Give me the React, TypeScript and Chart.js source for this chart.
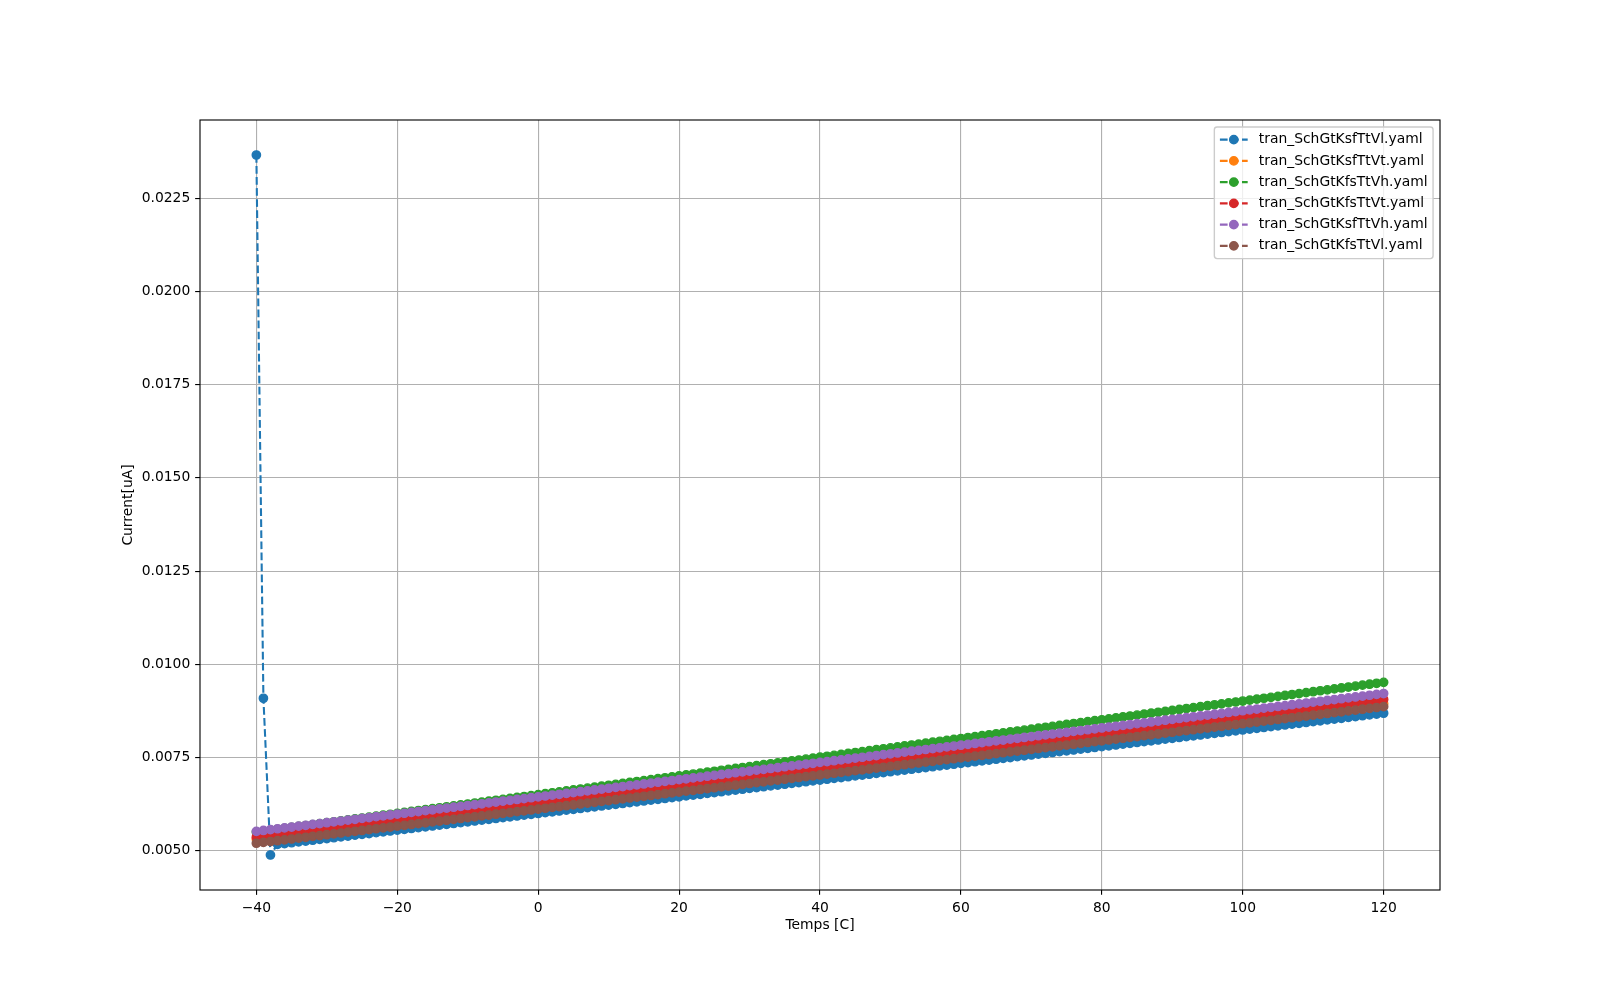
import React, { useEffect, useRef } from "react";
import { Chart, registerables } from "chart.js";

Chart.register(...registerables);

// ---- data ----
const TEMPS = [
  -40, -39, -38, -37, -36, -35, -34, -33, -32, -31,
  -30, -29, -28, -27, -26, -25, -24, -23, -22, -21,
  -20, -19, -18, -17, -16, -15, -14, -13, -12, -11,
  -10, -9, -8, -7, -6, -5, -4, -3, -2, -1,
  0, 1, 2, 3, 4, 5, 6, 7, 8, 9,
  10, 11, 12, 13, 14, 15, 16, 17, 18, 19,
  20, 21, 22, 23, 24, 25, 26, 27, 28, 29,
  30, 31, 32, 33, 34, 35, 36, 37, 38, 39,
  40, 41, 42, 43, 44, 45, 46, 47, 48, 49,
  50, 51, 52, 53, 54, 55, 56, 57, 58, 59,
  60, 61, 62, 63, 64, 65, 66, 67, 68, 69,
  70, 71, 72, 73, 74, 75, 76, 77, 78, 79,
  80, 81, 82, 83, 84, 85, 86, 87, 88, 89,
  90, 91, 92, 93, 94, 95, 96, 97, 98, 99,
  100, 101, 102, 103, 104, 105, 106, 107, 108, 109,
  110, 111, 112, 113, 114, 115, 116, 117, 118, 119,
  120,
];

const KSF_TT_VL = [
  0.02366, 0.009088, 0.004885, 0.00517, 0.0051924, 0.0052148, 0.0052372, 0.0052596, 0.005282, 0.0053044,
  0.0053268, 0.0053492, 0.0053716, 0.005394, 0.0054164, 0.0054388, 0.0054612, 0.0054836, 0.005506, 0.0055284,
  0.0055508, 0.0055732, 0.0055956, 0.005618, 0.0056404, 0.0056628, 0.0056852, 0.0057076, 0.00573, 0.0057524,
  0.0057748, 0.0057972, 0.0058196, 0.005842, 0.0058644, 0.0058868, 0.0059092, 0.0059316, 0.005954, 0.0059764,
  0.0059988, 0.0060212, 0.0060436, 0.006066, 0.0060884, 0.0061108, 0.0061332, 0.0061556, 0.006178, 0.0062004,
  0.0062228, 0.0062452, 0.0062676, 0.00629, 0.0063124, 0.0063348, 0.0063572, 0.0063796, 0.006402, 0.0064244,
  0.0064468, 0.0064692, 0.0064916, 0.006514, 0.0065364, 0.0065588, 0.0065812, 0.0066036, 0.006626, 0.0066484,
  0.0066708, 0.0066932, 0.0067156, 0.006738, 0.0067604, 0.0067828, 0.0068052, 0.0068276, 0.00685, 0.0068724,
  0.0068948, 0.0069172, 0.0069396, 0.006962, 0.0069844, 0.0070068, 0.0070292, 0.0070516, 0.007074, 0.0070964,
  0.0071188, 0.0071412, 0.0071636, 0.007186, 0.0072084, 0.0072308, 0.0072532, 0.0072756, 0.007298, 0.0073204,
  0.0073428, 0.0073652, 0.0073876, 0.00741, 0.0074324, 0.0074548, 0.0074772, 0.0074996, 0.007522, 0.0075444,
  0.0075668, 0.0075892, 0.0076116, 0.007634, 0.0076564, 0.0076788, 0.0077012, 0.0077236, 0.007746, 0.0077684,
  0.0077908, 0.0078132, 0.0078356, 0.007858, 0.0078804, 0.0079028, 0.0079252, 0.0079476, 0.00797, 0.0079924,
  0.0080148, 0.0080372, 0.0080596, 0.008082, 0.0081044, 0.0081268, 0.0081492, 0.0081716, 0.008194, 0.0082164,
  0.0082388, 0.0082612, 0.0082836, 0.008306, 0.0083284, 0.0083508, 0.0083732, 0.0083956, 0.008418, 0.0084404,
  0.0084628, 0.0084852, 0.0085076, 0.00853, 0.0085524, 0.0085748, 0.0085972, 0.0086196, 0.008642, 0.0086644,
  0.0086868,
];

const KSF_TT_VT = [
  0.00531, 0.0053327, 0.0053554, 0.0053781, 0.0054008, 0.0054235, 0.0054462, 0.0054689, 0.0054916, 0.0055143,
  0.005537, 0.0055597, 0.0055824, 0.0056051, 0.0056278, 0.0056505, 0.0056732, 0.0056959, 0.0057186, 0.0057413,
  0.005764, 0.0057867, 0.0058094, 0.0058321, 0.0058548, 0.0058775, 0.0059002, 0.0059229, 0.0059456, 0.0059683,
  0.005991, 0.0060137, 0.0060364, 0.0060591, 0.0060818, 0.0061045, 0.0061272, 0.0061499, 0.0061726, 0.0061953,
  0.006218, 0.0062407, 0.0062634, 0.0062861, 0.0063088, 0.0063315, 0.0063542, 0.0063769, 0.0063996, 0.0064223,
  0.006445, 0.0064677, 0.0064904, 0.0065131, 0.0065358, 0.0065585, 0.0065812, 0.0066039, 0.0066266, 0.0066493,
  0.006672, 0.0066947, 0.0067174, 0.0067401, 0.0067628, 0.0067855, 0.0068082, 0.0068309, 0.0068536, 0.0068763,
  0.006899, 0.0069217, 0.0069444, 0.0069671, 0.0069898, 0.0070125, 0.0070352, 0.0070579, 0.0070806, 0.0071033,
  0.007126, 0.0071487, 0.0071714, 0.0071941, 0.0072168, 0.0072395, 0.0072622, 0.0072849, 0.0073076, 0.0073303,
  0.007353, 0.0073757, 0.0073984, 0.0074211, 0.0074438, 0.0074665, 0.0074892, 0.0075119, 0.0075346, 0.0075573,
  0.00758, 0.0076027, 0.0076254, 0.0076481, 0.0076708, 0.0076935, 0.0077162, 0.0077389, 0.0077616, 0.0077843,
  0.007807, 0.0078297, 0.0078524, 0.0078751, 0.0078978, 0.0079205, 0.0079432, 0.0079659, 0.0079886, 0.0080113,
  0.008034, 0.0080567, 0.0080794, 0.0081021, 0.0081248, 0.0081475, 0.0081702, 0.0081929, 0.0082156, 0.0082383,
  0.008261, 0.0082837, 0.0083064, 0.0083291, 0.0083518, 0.0083745, 0.0083972, 0.0084199, 0.0084426, 0.0084653,
  0.008488, 0.0085107, 0.0085334, 0.0085561, 0.0085788, 0.0086015, 0.0086242, 0.0086469, 0.0086696, 0.0086923,
  0.008715, 0.0087377, 0.0087604, 0.0087831, 0.0088058, 0.0088285, 0.0088512, 0.0088739, 0.0088966, 0.0089193,
  0.008942,
];

const KFS_TT_VH = [
  0.0055, 0.0055251, 0.0055502, 0.0055753, 0.0056004, 0.0056255, 0.0056506, 0.0056757, 0.0057008, 0.0057259,
  0.005751, 0.0057761, 0.0058012, 0.0058263, 0.0058514, 0.0058765, 0.0059016, 0.0059267, 0.0059518, 0.0059769,
  0.006002, 0.0060271, 0.0060522, 0.0060773, 0.0061024, 0.0061275, 0.0061526, 0.0061777, 0.0062028, 0.0062279,
  0.006253, 0.0062781, 0.0063032, 0.0063283, 0.0063534, 0.0063785, 0.0064036, 0.0064287, 0.0064538, 0.0064789,
  0.006504, 0.0065291, 0.0065542, 0.0065793, 0.0066044, 0.0066295, 0.0066546, 0.0066797, 0.0067048, 0.0067299,
  0.006755, 0.0067801, 0.0068052, 0.0068303, 0.0068554, 0.0068805, 0.0069056, 0.0069307, 0.0069558, 0.0069809,
  0.007006, 0.0070311, 0.0070562, 0.0070813, 0.0071064, 0.0071315, 0.0071566, 0.0071817, 0.0072068, 0.0072319,
  0.007257, 0.0072821, 0.0073072, 0.0073323, 0.0073574, 0.0073825, 0.0074076, 0.0074327, 0.0074578, 0.0074829,
  0.007508, 0.0075331, 0.0075582, 0.0075833, 0.0076084, 0.0076335, 0.0076586, 0.0076837, 0.0077088, 0.0077339,
  0.007759, 0.0077841, 0.0078092, 0.0078343, 0.0078594, 0.0078845, 0.0079096, 0.0079347, 0.0079598, 0.0079849,
  0.00801, 0.0080351, 0.0080602, 0.0080853, 0.0081104, 0.0081355, 0.0081606, 0.0081857, 0.0082108, 0.0082359,
  0.008261, 0.0082861, 0.0083112, 0.0083363, 0.0083614, 0.0083865, 0.0084116, 0.0084367, 0.0084618, 0.0084869,
  0.008512, 0.0085371, 0.0085622, 0.0085873, 0.0086124, 0.0086375, 0.0086626, 0.0086877, 0.0087128, 0.0087379,
  0.008763, 0.0087881, 0.0088132, 0.0088383, 0.0088634, 0.0088885, 0.0089136, 0.0089387, 0.0089638, 0.0089889,
  0.009014, 0.0090391, 0.0090642, 0.0090893, 0.0091144, 0.0091395, 0.0091646, 0.0091897, 0.0092148, 0.0092399,
  0.009265, 0.0092901, 0.0093152, 0.0093403, 0.0093654, 0.0093905, 0.0094156, 0.0094407, 0.0094658, 0.0094909,
  0.009516,
];

const KFS_TT_VT = [
  0.00536, 0.0053831, 0.0054062, 0.0054293, 0.0054524, 0.0054755, 0.0054986, 0.0055217, 0.0055448, 0.0055679,
  0.005591, 0.0056141, 0.0056372, 0.0056603, 0.0056834, 0.0057065, 0.0057296, 0.0057527, 0.0057758, 0.0057989,
  0.005822, 0.0058451, 0.0058682, 0.0058913, 0.0059144, 0.0059375, 0.0059606, 0.0059837, 0.0060068, 0.0060299,
  0.006053, 0.0060761, 0.0060992, 0.0061223, 0.0061454, 0.0061685, 0.0061916, 0.0062147, 0.0062378, 0.0062609,
  0.006284, 0.0063071, 0.0063302, 0.0063533, 0.0063764, 0.0063995, 0.0064226, 0.0064457, 0.0064688, 0.0064919,
  0.006515, 0.0065381, 0.0065612, 0.0065843, 0.0066074, 0.0066305, 0.0066536, 0.0066767, 0.0066998, 0.0067229,
  0.006746, 0.0067691, 0.0067922, 0.0068153, 0.0068384, 0.0068615, 0.0068846, 0.0069077, 0.0069308, 0.0069539,
  0.006977, 0.0070001, 0.0070232, 0.0070463, 0.0070694, 0.0070925, 0.0071156, 0.0071387, 0.0071618, 0.0071849,
  0.007208, 0.0072311, 0.0072542, 0.0072773, 0.0073004, 0.0073235, 0.0073466, 0.0073697, 0.0073928, 0.0074159,
  0.007439, 0.0074621, 0.0074852, 0.0075083, 0.0075314, 0.0075545, 0.0075776, 0.0076007, 0.0076238, 0.0076469,
  0.00767, 0.0076931, 0.0077162, 0.0077393, 0.0077624, 0.0077855, 0.0078086, 0.0078317, 0.0078548, 0.0078779,
  0.007901, 0.0079241, 0.0079472, 0.0079703, 0.0079934, 0.0080165, 0.0080396, 0.0080627, 0.0080858, 0.0081089,
  0.008132, 0.0081551, 0.0081782, 0.0082013, 0.0082244, 0.0082475, 0.0082706, 0.0082937, 0.0083168, 0.0083399,
  0.008363, 0.0083861, 0.0084092, 0.0084323, 0.0084554, 0.0084785, 0.0085016, 0.0085247, 0.0085478, 0.0085709,
  0.008594, 0.0086171, 0.0086402, 0.0086633, 0.0086864, 0.0087095, 0.0087326, 0.0087557, 0.0087788, 0.0088019,
  0.008825, 0.0088481, 0.0088712, 0.0088943, 0.0089174, 0.0089405, 0.0089636, 0.0089867, 0.0090098, 0.0090329,
  0.009056,
];

const KSF_TT_VH = [
  0.00552, 0.0055431, 0.0055662, 0.0055893, 0.0056124, 0.0056355, 0.0056586, 0.0056817, 0.0057048, 0.0057279,
  0.005751, 0.0057741, 0.0057972, 0.0058203, 0.0058434, 0.0058665, 0.0058896, 0.0059127, 0.0059358, 0.0059589,
  0.005982, 0.0060051, 0.0060282, 0.0060513, 0.0060744, 0.0060975, 0.0061206, 0.0061437, 0.0061668, 0.0061899,
  0.006213, 0.0062361, 0.0062592, 0.0062823, 0.0063054, 0.0063285, 0.0063516, 0.0063747, 0.0063978, 0.0064209,
  0.006444, 0.0064671, 0.0064902, 0.0065133, 0.0065364, 0.0065595, 0.0065826, 0.0066057, 0.0066288, 0.0066519,
  0.006675, 0.0066981, 0.0067212, 0.0067443, 0.0067674, 0.0067905, 0.0068136, 0.0068367, 0.0068598, 0.0068829,
  0.006906, 0.0069291, 0.0069522, 0.0069753, 0.0069984, 0.0070215, 0.0070446, 0.0070677, 0.0070908, 0.0071139,
  0.007137, 0.0071601, 0.0071832, 0.0072063, 0.0072294, 0.0072525, 0.0072756, 0.0072987, 0.0073218, 0.0073449,
  0.007368, 0.0073911, 0.0074142, 0.0074373, 0.0074604, 0.0074835, 0.0075066, 0.0075297, 0.0075528, 0.0075759,
  0.007599, 0.0076221, 0.0076452, 0.0076683, 0.0076914, 0.0077145, 0.0077376, 0.0077607, 0.0077838, 0.0078069,
  0.00783, 0.0078531, 0.0078762, 0.0078993, 0.0079224, 0.0079455, 0.0079686, 0.0079917, 0.0080148, 0.0080379,
  0.008061, 0.0080841, 0.0081072, 0.0081303, 0.0081534, 0.0081765, 0.0081996, 0.0082227, 0.0082458, 0.0082689,
  0.008292, 0.0083151, 0.0083382, 0.0083613, 0.0083844, 0.0084075, 0.0084306, 0.0084537, 0.0084768, 0.0084999,
  0.008523, 0.0085461, 0.0085692, 0.0085923, 0.0086154, 0.0086385, 0.0086616, 0.0086847, 0.0087078, 0.0087309,
  0.008754, 0.0087771, 0.0088002, 0.0088233, 0.0088464, 0.0088695, 0.0088926, 0.0089157, 0.0089388, 0.0089619,
  0.008985, 0.0090081, 0.0090312, 0.0090543, 0.0090774, 0.0091005, 0.0091236, 0.0091467, 0.0091698, 0.0091929,
  0.009216,
];

const KFS_TT_VL = [
  0.0052, 0.0052229, 0.0052458, 0.0052687, 0.0052916, 0.0053145, 0.0053374, 0.0053603, 0.0053832, 0.0054061,
  0.005429, 0.0054519, 0.0054748, 0.0054977, 0.0055206, 0.0055435, 0.0055664, 0.0055893, 0.0056122, 0.0056351,
  0.005658, 0.0056809, 0.0057038, 0.0057267, 0.0057496, 0.0057725, 0.0057954, 0.0058183, 0.0058412, 0.0058641,
  0.005887, 0.0059099, 0.0059328, 0.0059557, 0.0059786, 0.0060015, 0.0060244, 0.0060473, 0.0060702, 0.0060931,
  0.006116, 0.0061389, 0.0061618, 0.0061847, 0.0062076, 0.0062305, 0.0062534, 0.0062763, 0.0062992, 0.0063221,
  0.006345, 0.0063679, 0.0063908, 0.0064137, 0.0064366, 0.0064595, 0.0064824, 0.0065053, 0.0065282, 0.0065511,
  0.006574, 0.0065969, 0.0066198, 0.0066427, 0.0066656, 0.0066885, 0.0067114, 0.0067343, 0.0067572, 0.0067801,
  0.006803, 0.0068259, 0.0068488, 0.0068717, 0.0068946, 0.0069175, 0.0069404, 0.0069633, 0.0069862, 0.0070091,
  0.007032, 0.0070549, 0.0070778, 0.0071007, 0.0071236, 0.0071465, 0.0071694, 0.0071923, 0.0072152, 0.0072381,
  0.007261, 0.0072839, 0.0073068, 0.0073297, 0.0073526, 0.0073755, 0.0073984, 0.0074213, 0.0074442, 0.0074671,
  0.00749, 0.0075129, 0.0075358, 0.0075587, 0.0075816, 0.0076045, 0.0076274, 0.0076503, 0.0076732, 0.0076961,
  0.007719, 0.0077419, 0.0077648, 0.0077877, 0.0078106, 0.0078335, 0.0078564, 0.0078793, 0.0079022, 0.0079251,
  0.007948, 0.0079709, 0.0079938, 0.0080167, 0.0080396, 0.0080625, 0.0080854, 0.0081083, 0.0081312, 0.0081541,
  0.008177, 0.0081999, 0.0082228, 0.0082457, 0.0082686, 0.0082915, 0.0083144, 0.0083373, 0.0083602, 0.0083831,
  0.008406, 0.0084289, 0.0084518, 0.0084747, 0.0084976, 0.0085205, 0.0085434, 0.0085663, 0.0085892, 0.0086121,
  0.008635, 0.0086579, 0.0086808, 0.0087037, 0.0087266, 0.0087495, 0.0087724, 0.0087953, 0.0088182, 0.0088411,
  0.008864,
];

const SERIES_LABELS = [
  "tran_SchGtKsfTtVl.yaml",
  "tran_SchGtKsfTtVt.yaml",
  "tran_SchGtKfsTtVh.yaml",
  "tran_SchGtKfsTtVt.yaml",
  "tran_SchGtKsfTtVh.yaml",
  "tran_SchGtKfsTtVl.yaml",
];
const SERIES_COLORS = ["#1f77b4", "#ff7f0e", "#2ca02c", "#d62728", "#9467bd", "#8c564b"];
const X_TICKS = [-40, -20, 0, 20, 40, 60, 80, 100, 120];
const Y_TICKS = [0.005, 0.0075, 0.01, 0.0125, 0.015, 0.0175, 0.02, 0.0225];
const X_TITLE = "Temps [C]";
const Y_TITLE = "Current[uA]";

// ---- style (matplotlib-like) ----
const PT = 100 / 72;
const FS = 10 * PT;
const FONT = "'DejaVu Sans', 'Liberation Sans', sans-serif";
const LINE_W = 1.5 * PT;
const DASH = [3.7 * 1.5 * PT, 1.6 * 1.5 * PT];
const MARKER_R = 3 * PT;
const MARKER_EDGE = 1 * PT;
const TICK_LEN = 3.5 * PT;
const TICK_PAD = 3.5 * PT;

export default function App() {
  const canvasRef = useRef<HTMLCanvasElement | null>(null);

  useEffect(() => {
    const canvas = canvasRef.current;
    if (!canvas) return;
    const series = [KSF_TT_VL, KSF_TT_VT, KFS_TT_VH, KFS_TT_VT, KSF_TT_VH, KFS_TT_VL];

    const all = series.flat();
    const ymin = Math.min(...all);
    const ymax = Math.max(...all);
    const ypad = (ymax - ymin) * 0.05;
    const xmin = Math.min(...TEMPS);
    const xmax = Math.max(...TEMPS);
    const xpad = (xmax - xmin) * 0.05;

    const framePlugin = {
      id: "mplFrame",
      afterDatasetsDraw(chart: any) {
        const { ctx, chartArea: a } = chart;
        ctx.save();
        ctx.strokeStyle = "#000";
        ctx.lineWidth = 0.8 * PT;
        ctx.setLineDash([]);
        ctx.strokeRect(a.left, a.top, a.right - a.left, a.bottom - a.top);
        ctx.restore();
      },
    };

    const legendPlugin = {
      id: "mplLegend",
      afterDraw(chart: any) {
        const { ctx, chartArea: a } = chart;
        ctx.save();
        ctx.font = `${FS}px ${FONT}`;
        const textW = Math.max(...SERIES_LABELS.map((l) => ctx.measureText(l).width));
        const borderPad = 0.4 * FS;
        const handleLen = 2.0 * FS;
        const handlePad = 0.8 * FS;
        const labelSpacing = 0.5 * FS;
        const axPad = 0.5 * FS;
        const rowH = 14.3;
        const n = SERIES_LABELS.length;
        const boxW = borderPad * 2 + handleLen + handlePad + textW;
        const boxH = borderPad * 2 + n * rowH + (n - 1) * labelSpacing;
        const right = a.right - axPad;
        const top = a.top + axPad;
        const left = right - boxW;
        const r = 0.2 * FS;

        ctx.beginPath();
        ctx.moveTo(left + r, top);
        ctx.lineTo(left + boxW - r, top);
        ctx.arcTo(left + boxW, top, left + boxW, top + r, r);
        ctx.lineTo(left + boxW, top + boxH - r);
        ctx.arcTo(left + boxW, top + boxH, left + boxW - r, top + boxH, r);
        ctx.lineTo(left + r, top + boxH);
        ctx.arcTo(left, top + boxH, left, top + boxH - r, r);
        ctx.lineTo(left, top + r);
        ctx.arcTo(left, top, left + r, top, r);
        ctx.closePath();
        ctx.fillStyle = "rgba(255,255,255,0.8)";
        ctx.fill();
        ctx.strokeStyle = "#cccccc";
        ctx.lineWidth = 1 * PT;
        ctx.stroke();

        SERIES_LABELS.forEach((label, i) => {
          const cy = top + borderPad + rowH / 2 + i * (rowH + labelSpacing);
          const x0 = left + borderPad;
          const color = SERIES_COLORS[i];
          ctx.beginPath();
          ctx.setLineDash(DASH);
          ctx.lineDashOffset = 0;
          ctx.strokeStyle = color;
          ctx.lineWidth = LINE_W;
          ctx.moveTo(x0, cy);
          ctx.lineTo(x0 + handleLen, cy);
          ctx.stroke();
          ctx.setLineDash([]);
          ctx.beginPath();
          ctx.arc(x0 + handleLen / 2, cy, MARKER_R, 0, Math.PI * 2);
          ctx.fillStyle = color;
          ctx.fill();
          ctx.lineWidth = MARKER_EDGE;
          ctx.strokeStyle = color;
          ctx.stroke();
          ctx.fillStyle = "#000";
          ctx.textAlign = "left";
          ctx.textBaseline = "middle";
          ctx.fillText(label, x0 + handleLen + handlePad, cy);
        });
        ctx.restore();
      },
    };

    const datasets = series.map((s, i) => ({
      label: SERIES_LABELS[i],
      data: TEMPS.map((t, k) => ({ x: t, y: s[k] })),
      borderColor: SERIES_COLORS[i],
      backgroundColor: SERIES_COLORS[i],
      borderWidth: LINE_W,
      borderDash: DASH,
      pointRadius: MARKER_R,
      pointHoverRadius: MARKER_R,
      pointBorderWidth: MARKER_EDGE,
      pointBackgroundColor: SERIES_COLORS[i],
      pointBorderColor: SERIES_COLORS[i],
      pointStyle: "circle",
      tension: 0,
      fill: false,
      order: series.length - 1 - i,
    }));

    const tickFont = { family: FONT, size: FS };

    const chart = new Chart(canvas, {
      type: "line",
      data: { datasets },
      plugins: [framePlugin, legendPlugin],
      options: {
        animation: false,
        responsive: false,
        maintainAspectRatio: false,
        devicePixelRatio: 1,
        events: [],
        layout: { padding: { left: 0, right: 160, top: 120, bottom: 0 } },
        plugins: {
          legend: { display: false },
          tooltip: { enabled: false },
          title: { display: false },
        },
        scales: {
          x: {
            type: "linear",
            min: xmin - xpad,
            max: xmax + xpad,
            afterBuildTicks: (scale: any) => {
              scale.ticks = X_TICKS.map((v) => ({ value: v }));
            },
            afterFit: (scale: any) => {
              scale.height = 110;
            },
            ticks: {
              autoSkip: false,
              maxRotation: 0,
              minRotation: 0,
              padding: TICK_PAD,
              color: "#000",
              font: tickFont,
              callback: (v: any) => (Number(v) < 0 ? "\u2212" + Math.abs(Number(v)) : String(v)),
            },
            grid: {
              color: "#b0b0b0",
              lineWidth: 0.8 * PT,
              tickLength: TICK_LEN,
              tickColor: "#000",
              tickWidth: 0.8 * PT,
              drawTicks: true,
            },
            border: { display: false },
            title: {
              display: true,
              text: X_TITLE,
              color: "#000",
              font: { family: FONT, size: FS },
              padding: { top: 0, bottom: 66.5 },
            },
          },
          y: {
            type: "linear",
            min: ymin - ypad,
            max: ymax + ypad,
            afterBuildTicks: (scale: any) => {
              scale.ticks = Y_TICKS.map((v) => ({ value: v }));
            },
            afterFit: (scale: any) => {
              scale.width = 200;
            },
            ticks: {
              autoSkip: false,
              padding: TICK_PAD,
              color: "#000",
              font: tickFont,
              callback: (v: any) => Number(v).toFixed(4),
            },
            grid: {
              color: "#b0b0b0",
              lineWidth: 0.8 * PT,
              tickLength: TICK_LEN,
              tickColor: "#000",
              tickWidth: 0.8 * PT,
              drawTicks: true,
            },
            border: { display: false },
            title: {
              display: true,
              text: Y_TITLE,
              color: "#000",
              font: { family: FONT, size: FS },
              padding: { top: 120.2, bottom: 0 },
            },
          },
        },
      },
    } as any);

    return () => {
      chart.destroy();
    };
  }, []);

  return (
    <div
      style={{
        position: "absolute",
        left: 0,
        top: 0,
        width: 1600,
        height: 1000,
        background: "#ffffff",
      }}
    >
      <canvas
        ref={canvasRef}
        width={1600}
        height={1000}
        style={{ display: "block", width: 1600, height: 1000 }}
      />
    </div>
  );
}
